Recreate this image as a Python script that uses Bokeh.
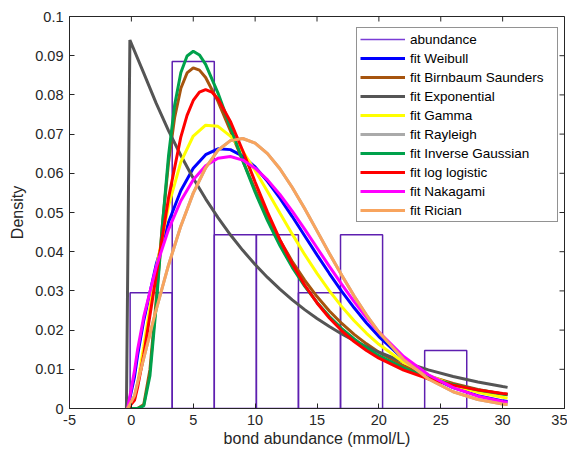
import math
from bokeh.plotting import figure
from bokeh.models import (ColumnDataSource, Legend, LegendItem, FixedTicker, Range1d)
from bokeh.embed import file_html
from bokeh.resources import INLINE

# ---------------- data ----------------
hist_edges = [-0.1, 3.3, 6.7, 10.1, 13.5, 16.9, 20.3, 23.7, 27.1]
hist_density = [0.0295, 0.0885, 0.0443, 0.0443, 0.0295, 0.0443, 0.0, 0.0148]

x_fit = [-0.3, 0.25, 0.5, 1, 2, 3, 4, 5, 6, 7, 8, 9, 10, 11, 12, 13, 14, 15, 16,
         17, 18, 19, 20, 22, 24, 26, 28, 30, 30.4]
weibull = [0, 0.00806, 0.0135, 0.02249, 0.03668, 0.0475, 0.0556, 0.06128, 0.06474,
           0.06625, 0.06604, 0.0644, 0.06161, 0.05794, 0.05365, 0.04897, 0.04408,
           0.0392, 0.03443, 0.02989, 0.02569, 0.02183, 0.01836, 0.01261, 0.00834,
           0.00532, 0.00328, 0.00195, 0.00176]
gamma = [0, 0.00237, 0.00633, 0.01591, 0.03558, 0.0517, 0.06291, 0.06951, 0.07226,
         0.07198, 0.0695, 0.0656, 0.0607, 0.05538, 0.0499, 0.04448, 0.0393, 0.03446,
         0.03002, 0.02599, 0.02238, 0.01919, 0.01638, 0.01182, 0.00842, 0.00593,
         0.00414, 0.00287, 0.00265]
rayleigh = [0, 0.00323, 0.00645, 0.01283, 0.02517, 0.03655, 0.04658, 0.05495, 0.06141,
            0.06588, 0.06834, 0.06888, 0.0677, 0.06503, 0.06115, 0.05637, 0.0510,
            0.04531, 0.03956, 0.03398, 0.02868, 0.02385, 0.0195, 0.01248, 0.00752,
            0.00427, 0.00229, 0.00116, 0.00101]
nakagami = [0, 0.0096, 0.0150, 0.02341, 0.03606, 0.04565, 0.05299, 0.05835, 0.06192,
            0.06385, 0.06428, 0.06337, 0.06131, 0.05832, 0.05459, 0.05033, 0.04575,
            0.041, 0.03625, 0.03164, 0.02725, 0.02318, 0.01947, 0.01326, 0.0086,
            0.00532, 0.00314, 0.00177, 0.00157]
rician = [0, 0.00323, 0.00645, 0.01283, 0.02517, 0.03655, 0.04658, 0.05495, 0.06141,
          0.06588, 0.06834, 0.06888, 0.0677, 0.06503, 0.06115, 0.05637, 0.0510,
          0.04531, 0.03956, 0.03398, 0.02868, 0.02385, 0.0195, 0.01248, 0.00752,
          0.00427, 0.00229, 0.00116, 0.00101]

x_loglog = [-0.3, 0.25, 0.5, 1, 2, 3, 4, 4.5, 5, 5.5, 6, 6.5, 7, 8, 9, 10, 11, 12, 13,
            14, 15, 16, 17, 18, 19, 20, 22, 24, 26, 28, 30, 30.4]
loglogistic = [0, 0.00208, 0.00536, 0.01371, 0.03379, 0.05367, 0.06931, 0.07479,
               0.07858, 0.08072, 0.08137, 0.08072, 0.07898, 0.07323, 0.06576,
               0.05779, 0.05009, 0.04306, 0.03685, 0.0315, 0.02693, 0.02307,
               0.01982, 0.01708, 0.01478, 0.01283, 0.00979, 0.00758, 0.00596,
               0.00475, 0.00384, 0.00368]

x_peak = [-0.3, 0.5, 1, 1.5, 2, 2.5, 3, 3.5, 4, 4.5, 5, 5.5, 6, 7, 8, 9, 10, 11, 12,
          13, 14, 15, 16, 17, 18, 19, 20, 22, 24, 26, 28, 30, 30.4]
birnbaum = [0, 0, 0.000986, 0.00991, 0.02748, 0.04666, 0.06275, 0.07433, 0.08169,
            0.0856, 0.08689, 0.08632, 0.08445, 0.07836, 0.0709, 0.06321, 0.05584,
            0.04905, 0.04294, 0.03751, 0.03273, 0.02856, 0.02489, 0.0217, 0.01891,
            0.01649, 0.01437, 0.01092, 0.00832, 0.00637, 0.00487, 0.00373, 0.00355]
inv_gauss = [0, 0, 0.00065, 0.00837, 0.02592, 0.04651, 0.06441, 0.0775, 0.08571,
             0.08994, 0.09115, 0.0902, 0.08778, 0.08046, 0.07183, 0.0632, 0.05516,
             0.04793, 0.04156, 0.036, 0.0312, 0.02705, 0.02348, 0.0204, 0.01775,
             0.01546, 0.01348, 0.0103, 0.00791, 0.0061, 0.00473, 0.00368, 0.0035]

x_exp = [-0.4, -0.12, 1, 2, 3, 4, 5, 6, 7, 8, 9, 10, 11, 12, 13, 14, 15, 16, 17, 18,
         19, 20, 22, 24, 26, 28, 30, 30.4]
exponential = [0, 0.094, 0.08557, 0.07789, 0.0709, 0.06455, 0.05876, 0.05349,
               0.04869, 0.04432, 0.04035, 0.03673, 0.03343, 0.03044, 0.0277,
               0.02522, 0.02296, 0.0209, 0.01902, 0.01732, 0.01576, 0.01435,
               0.01189, 0.00985, 0.00816, 0.00676, 0.0056, 0.00539]

x_ticks = [-5, 0, 5, 10, 15, 20, 25, 30, 35]
x_tick_labels = ["-5", "0", "5", "10", "15", "20", "25", "30", "35"]
y_ticks = [0, 0.01, 0.02, 0.03, 0.04, 0.05, 0.06, 0.07, 0.08, 0.09, 0.1]
y_tick_labels = ["0", "0.01", "0.02", "0.03", "0.04", "0.05", "0.06", "0.07",
                 "0.08", "0.09", "0.1"]
x_lim = (-5, 35)
y_lim = (0, 0.1)

# ---------------- styling ----------------
FONT = "Liberation Sans"
AX = "#262626"
HIST_COLOR = "#5E1FB0"

p = figure(output_backend="svg", toolbar_location=None,
           frame_width=495, frame_height=392,
           min_border_left=69, min_border_top=16, min_border_right=3,
           min_border_bottom=10,
           x_range=Range1d(*x_lim), y_range=Range1d(*y_lim),
           x_axis_label="bond abundance (mmol/L)", y_axis_label="Density")
p.background_fill_color = "white"
p.border_fill_color = "white"
p.outline_line_color = AX
p.xgrid.visible = False
p.ygrid.visible = False

for ax, ticks, labels in ((p.xaxis[0], x_ticks, x_tick_labels),
                          (p.yaxis[0], y_ticks, y_tick_labels)):
    ax.ticker = FixedTicker(ticks=ticks)
    ax.major_label_overrides = {t: l for t, l in zip(ticks, labels)}
    ax.axis_line_color = AX
    ax.major_tick_line_color = AX
    ax.major_tick_in = 5
    ax.major_tick_out = 0
    ax.minor_tick_line_color = None
    ax.major_label_text_font = FONT
    ax.major_label_text_color = AX
    ax.major_label_text_font_size = "14.5px"
    ax.major_label_standoff = 6
    ax.axis_label_text_font = FONT
    ax.axis_label_text_color = AX
    ax.axis_label_text_font_style = "normal"
    ax.axis_label_text_font_size = "16px"
    ax.axis_label_standoff = 6
p.xaxis[0].axis_label_standoff = 2

# inward ticks on the top and right edges of the box
p.ray(x=x_ticks, y=[y_lim[1]] * len(x_ticks), length=5, length_units="screen",
      angle=-math.pi / 2, line_color=AX, line_width=1)
p.ray(x=[x_lim[1]] * len(y_ticks), y=y_ticks, length=5, length_units="screen",
      angle=math.pi, line_color=AX, line_width=1)

# histogram
hsrc = ColumnDataSource(dict(left=hist_edges[:-1], right=hist_edges[1:],
                             top=hist_density, bottom=[0] * len(hist_density)))
p.quad(left="left", right="right", top="top", bottom="bottom", source=hsrc,
       fill_color=None, line_color=HIST_COLOR, line_width=1.5)
hist_leg = p.line(x=[float("nan")], y=[float("nan")], line_color="#7A3CD6",
                  line_width=1.5)

LW = 3
series = [
    ("fit Weibull", x_fit, weibull, "#0000FF"),
    ("fit Birnbaum Saunders", x_peak, birnbaum, "#A6540E"),
    ("fit Exponential", x_exp, exponential, "#555555"),
    ("fit Gamma", x_fit, gamma, "#FFFF00"),
    ("fit Rayleigh", x_fit, rayleigh, "#AAAAAA"),
    ("fit Inverse Gaussian", x_peak, inv_gauss, "#00A14B"),
    ("fit log logistic", x_loglog, loglogistic, "#FF0000"),
    ("fit Nakagami", x_fit, nakagami, "#FF00FF"),
    ("fit Rician", x_fit, rician, "#F8A45E"),
]

items = [LegendItem(label="abundance", renderers=[hist_leg])]
for name, xs, ys, col in series:
    r = p.line(x=xs, y=ys, line_color=col, line_width=LW)
    items.append(LegendItem(label=name, renderers=[r]))

legend = Legend(items=items, location=(287, 186))
legend.label_text_font = FONT
legend.label_text_font_size = "13.5px"
legend.label_text_color = "#000000"
legend.glyph_width = 45
legend.glyph_height = 16
legend.label_height = 16
legend.label_width = 144
legend.label_standoff = 5
legend.spacing = 3
legend.padding = 3
legend.margin = 0
legend.border_line_color = AX
legend.border_line_width = 1
legend.background_fill_color = "white"
legend.background_fill_alpha = 1
p.add_layout(legend, "center")

open("out.html", "w").write(file_html(p, INLINE))
